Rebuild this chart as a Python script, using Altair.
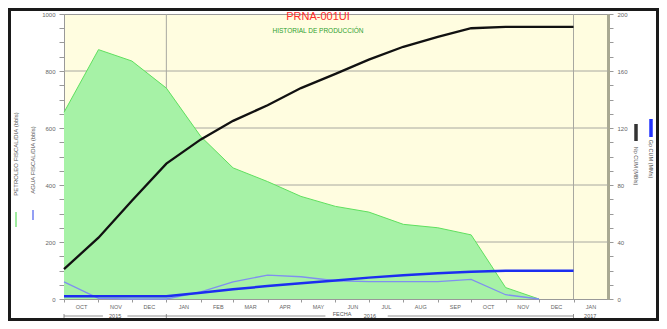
import altair as alt
import pandas as pd

# ---------------- data ----------------
months = ["2015-10-01", "2015-11-01", "2015-12-01", "2016-01-01", "2016-02-01",
          "2016-03-01", "2016-04-01", "2016-05-01", "2016-06-01", "2016-07-01",
          "2016-08-01", "2016-09-01", "2016-10-01", "2016-11-01", "2016-12-01",
          "2017-01-01"]
oil_daily = [655, 875, 835, 740, 570, 460, 412, 360, 325, 305, 262, 250, 225, 40, 0]
water_daily = [60, 2, 0, 0, 25, 60, 84, 78, 64, 61, 61, 61, 69, 15, 0]
np_cum = [21, 43, 69, 95, 112, 125, 136, 148, 158, 168, 177, 184, 190, 191, 191, 191]
gp_cum = [2, 2, 2, 2, 4.4, 6.8, 9.1, 11, 12.9, 15, 16.6, 18, 19.2, 19.9, 19.9, 19.9]
left_ticks = list(range(0, 1001, 50))
left_grid = [200, 400, 600, 800]
right_ticks = list(range(0, 201, 10))
year_lines = ["2016-01-01", "2017-01-01"]
years = ["2015", "2016", "2017"]
year_start = ["2015-10-01", "2016-01-01", "2017-01-01"]
year_end = ["2016-01-01", "2017-01-01", "2017-02-01"]

FONT = "Liberation Sans"


def dt(s):
    y, m, d = map(int, s.split("-"))
    return alt.DateTime(year=y, month=m, date=d, utc=True)


x_enc = alt.X(
    "date:T",
    scale=alt.Scale(type="utc", domain=[dt("2015-10-01"), dt("2017-02-01")]),
    axis=alt.Axis(values=[dt(m) for m in months],
                  labelExpr="upper(utcFormat(datum.value, '%b'))",
                  labelOffset=17, tickSize=3, labelPadding=2, labelFontSize=5.5,
                  labelColor="#666666", domainColor="#999999", tickColor="#999999",
                  grid=False, title=None, labelOverlap=False, labelFlush=False,
                  labelFont=FONT),
)

yl_enc = alt.Y(
    "v:Q",
    scale=alt.Scale(domain=[0, 1000], nice=False),
    axis=alt.Axis(values=left_ticks,
                  labelExpr="datum.value % 200 == 0 ? format(datum.value, 'd') : ''",
                  tickSize=5, labelPadding=4, labelFontSize=6, labelColor="#666666",
                  domainColor="#999999", tickColor="#999999", grid=False, title=None,
                  labelFont=FONT),
)

yr_enc = alt.Y(
    "v:Q",
    scale=alt.Scale(domain=[0, 200], nice=False),
    axis=alt.Axis(orient="right", values=right_ticks,
                  labelExpr="datum.value % 40 == 0 ? format(datum.value, 'd') : ''",
                  tickSize=5, labelPadding=4, labelFontSize=6, labelColor="#666666",
                  domainColor="#a9a992", domainWidth=3, tickColor="#999999",
                  grid=False, title=None, labelFont=FONT),
)

df_oil = pd.DataFrame({"date": months[:len(oil_daily)], "v": oil_daily})
df_water = pd.DataFrame({"date": months[:len(water_daily)], "v": water_daily})
df_np = pd.DataFrame({"date": months, "v": np_cum})
df_gp = pd.DataFrame({"date": months, "v": gp_cum})
df_grid = pd.DataFrame({"v": left_grid})
df_vgrid = pd.DataFrame({"date": year_lines})

grid_h = alt.Chart(df_grid).mark_rule(color="#a8a8a0", strokeWidth=1).encode(y=yl_enc)
grid_v = alt.Chart(df_vgrid).mark_rule(color="#a8a8a0", strokeWidth=1).encode(x=x_enc)

oil_area = alt.Chart(df_oil).mark_area(
    color="#a6f2a6", opacity=1, line={"color": "#5fe05f", "strokeWidth": 1}
).encode(x=x_enc, y=yl_enc)

water_line = alt.Chart(df_water).mark_line(color="#7f8ff0", strokeWidth=1.3).encode(
    x=x_enc, y=yl_enc)

np_line = alt.Chart(df_np).mark_line(color="#111111", strokeWidth=2.3).encode(
    x=x_enc, y=yr_enc)
gp_line = alt.Chart(df_gp).mark_line(color="#1c2ef0", strokeWidth=2.5).encode(
    x=x_enc, y=yr_enc)


def txt(label, x, y, size, color, angle=0, align="center", weight="normal"):
    kw = dict(fontSize=size, color=color, font=FONT, align=align,
              baseline="middle", fontWeight=weight)
    if angle:
        kw["angle"] = angle
    return alt.Chart(pd.DataFrame({"t": [label]})).mark_text(**kw).encode(
        text="t:N", x=alt.value(x), y=alt.value(y))


def vbar(x, y1, y2, color, w):
    return alt.Chart(pd.DataFrame({"t": [0]})).mark_rule(
        color=color, strokeWidth=w).encode(
        x=alt.value(x), y=alt.value(y1), y2=alt.value(y2))


title = txt("PRNA-001UI", 254, 3, 11, "#ff2b2b")
subtitle = txt("HISTORIAL DE PRODUCCIÓN", 254, 17, 6.5, "#2f9f2f")

leg_oil_t = txt("PETROLEO FISCAL/DIA (bbls)", -48, 140, 6, "#555555", angle=270)
leg_oil_l = vbar(-48, 198, 213, "#7fe57f", 1.5)
leg_wat_t = txt("AGUA FISCAL/DIA (bbls)", -31, 146, 6, "#555555", angle=270)
leg_wat_l = vbar(-31, 196, 206, "#6f7ff0", 1.5)

leg_np_l = vbar(572, 110, 127, "#333333", 3.5)
leg_np_t = txt("Np CUM (MBls)", 572, 152, 5.5, "#555555", angle=90)
leg_gp_l = vbar(587, 105, 123, "#2233ff", 3.5)
leg_gp_t = txt("Gp CUM (MMs)", 587, 145, 5.5, "#555555", angle=90)

# year row under the month labels
df_years = pd.DataFrame({"y": years, "date": year_start, "date2": year_end})
df_years["mid"] = (pd.to_datetime(df_years["date"]) +
                   (pd.to_datetime(df_years["date2"]) - pd.to_datetime(df_years["date"])) / 2
                   ).dt.strftime("%Y-%m-%d")
seg_rows = []
for _, r in df_years.iterrows():
    mid = pd.to_datetime(r["mid"])
    gap_l = 40 if r["y"] == "2016" else 11
    gap_r = 16 if r["y"] == "2016" else 11
    a = (mid - pd.Timedelta(days=gap_l)).strftime("%Y-%m-%d")
    b = (mid + pd.Timedelta(days=gap_r)).strftime("%Y-%m-%d")
    if r["y"] != "2017":
        seg_rows.append({"date": r["date"], "date2": a})
        seg_rows.append({"date": b, "date2": r["date2"]})
df_seg = pd.DataFrame(seg_rows)
YR = 302
year_rules = alt.Chart(df_seg).mark_rule(color="#777777", strokeWidth=0.8).encode(
    x=x_enc, x2="date2:T", y=alt.value(YR))
year_ticks = alt.Chart(df_years).mark_rule(color="#777777", strokeWidth=0.8).encode(
    x=x_enc, y=alt.value(YR - 2), y2=alt.value(YR + 2))
year_text = alt.Chart(df_years.assign(date=df_years["mid"])).mark_text(
    fontSize=5.5, color="#555555", font=FONT, baseline="middle").encode(
    x=x_enc, y=alt.value(YR), text="y:N")
fecha = txt("FECHA", 278, YR - 2, 5.5, "#555555")

frame = alt.Chart(pd.DataFrame({"t": [0]})).mark_rect(
    fillOpacity=0, stroke="#1a1a1a", strokeWidth=3).encode(
    x=alt.value(-54.5), x2=alt.value(593.5), y=alt.value(-4.5), y2=alt.value(305.5))

left = alt.layer(grid_h, grid_v, oil_area, water_line, title, subtitle,
                 leg_oil_t, leg_oil_l, leg_wat_t, leg_wat_l,
                 year_rules, year_ticks, year_text, fecha, frame)
right = alt.layer(np_line, gp_line, leg_np_l, leg_np_t, leg_gp_l, leg_gp_t)

chart = alt.layer(left, right).resolve_scale(y="independent").properties(
    width=544, height=285,
    autosize=alt.AutoSizeParams(type="none"),
    padding={"left": 56, "top": 6, "right": 51, "bottom": 22},
    background="white",
).configure_view(fill="#fffde0", stroke="#999999")

chart.save("out.html", embed_options={"renderer": "svg", "actions": False})
